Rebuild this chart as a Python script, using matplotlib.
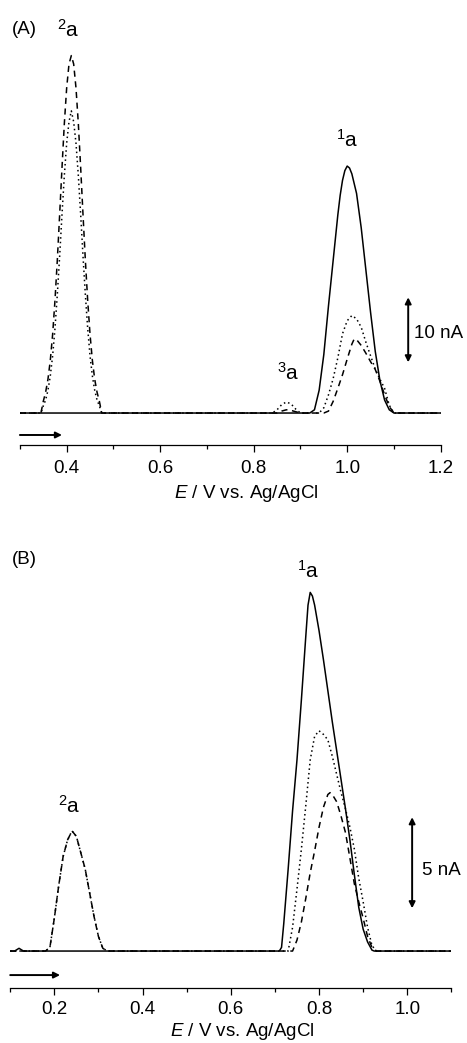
import numpy as np
import matplotlib
matplotlib.use("Agg")
import matplotlib.pyplot as plt
from matplotlib.ticker import MultipleLocator

plt.rcParams['font.family'] = ['Liberation Sans', 'DejaVu Sans']
plt.rcParams['mathtext.fontset'] = 'custom'
plt.rcParams['mathtext.rm'] = 'Liberation Sans'
plt.rcParams['mathtext.it'] = 'Liberation Sans:italic'

# ---- panel (A): current in nA vs E in V ----
a_solid_x = [0.30, 0.92, 0.93, 0.94, 0.95, 0.96, 0.97, 0.98, 0.985, 0.99, 0.995, 1.00, 1.005,
             1.01, 1.02, 1.03, 1.04, 1.05, 1.06, 1.07, 1.08, 1.09, 1.10, 1.20]
a_solid_y = [0, 0, 0.5, 3.5, 9, 16.5, 23.5, 30.5, 33.5, 35.8, 37.3, 38, 37.7,
             36.8, 33.8, 28.5, 22, 15.5, 9.5, 5, 2, 0.5, 0, 0]

a_dot_x = [0.30, 0.345, 0.35, 0.355, 0.36, 0.365, 0.37, 0.375, 0.38, 0.385, 0.39, 0.395,
           0.40, 0.405, 0.41, 0.415, 0.42, 0.425, 0.43, 0.435, 0.44, 0.445, 0.45, 0.455,
           0.46, 0.465, 0.47, 0.475,
           0.84, 0.85, 0.86, 0.87, 0.88, 0.89, 0.90,
           0.94, 0.95, 0.96, 0.97, 0.98, 0.99, 1.00, 1.01, 1.02, 1.03, 1.04, 1.05, 1.06,
           1.07, 1.08, 1.09, 1.10, 1.20]
a_dot_y = [0, 0, 1.1, 2.0, 3.5, 5.7, 8.8, 13.0, 18.2, 24.1, 30.5, 36.5,
           41.5, 44.8, 46.5, 44.8, 41.5, 36.5, 30.5, 24.1, 18.2, 13.0, 8.8, 5.7,
           3.5, 2.0, 1.1, 0,
           0, 0.5, 1.3, 1.7, 1.4, 0.6, 0,
           0, 0.8, 2.8, 5.3, 8.5, 12.2, 14.2, 15, 14.5, 13.2, 10.9, 8.8, 6.8,
           5.2, 3.8, 1.2, 0, 0]

a_dash_x = [0.30, 0.345, 0.35, 0.355, 0.36, 0.365, 0.37, 0.375, 0.38, 0.385, 0.39, 0.395,
            0.40, 0.405, 0.41, 0.415, 0.42, 0.425, 0.43, 0.435, 0.44, 0.445, 0.45, 0.455,
            0.46, 0.465, 0.47, 0.475,
            0.85, 0.86, 0.87, 0.88, 0.89, 0.90,
            0.95, 0.96, 0.97, 0.98, 0.99, 1.00, 1.01, 1.015, 1.02, 1.03, 1.04, 1.05, 1.06,
            1.07, 1.08, 1.09, 1.10, 1.20]
a_dash_y = [0, 0, 1.8, 3.2, 5.2, 8.1, 12.1, 17.3, 23.5, 30.5, 37.7, 44.5,
            50.0, 53.7, 55, 53.7, 50.0, 44.5, 37.7, 30.5, 23.5, 17.3, 12.1, 8.1,
            5.2, 3.2, 1.8, 0,
            0, 0.3, 0.5, 0.4, 0.2, 0,
            0, 0.3, 1.8, 3.8, 5.9, 8.3, 10.6, 11.4, 11.3, 10.4, 9.2, 7.9, 6.7,
            4.9, 2.8, 1.0, 0, 0]

# ---- panel (B) ----
b_solid_x = [0.10, 0.11, 0.12, 0.13, 0.70, 0.71, 0.715, 0.72, 0.73, 0.74, 0.75, 0.76, 0.77,
             0.775, 0.78, 0.785, 0.79, 0.80, 0.81, 0.82, 0.83, 0.84, 0.85, 0.86, 0.87,
             0.88, 0.89, 0.90, 0.91, 0.92, 0.925, 1.10]
b_solid_y = [0, 0, 0.15, 0, 0, 0, 0.2, 1.5, 4.5, 7.7, 10.5, 13.8, 17.3,
             19.0, 19.7, 19.5, 19.0, 17.6, 16.0, 14.3, 12.6, 11.0, 9.4, 7.8, 6.1,
             4.2, 2.4, 1.2, 0.5, 0.05, 0, 0]

b_dot_x = [0.10, 0.18, 0.19, 0.20, 0.21, 0.22, 0.23, 0.24, 0.25, 0.26, 0.27, 0.28, 0.29,
           0.30, 0.31, 0.32,
           0.73, 0.74, 0.75, 0.76, 0.77, 0.78, 0.79, 0.80, 0.81, 0.82, 0.83, 0.84, 0.85,
           0.86, 0.87, 0.88, 0.89, 0.90, 0.91, 0.92, 0.93, 1.10]
b_dot_y = [0, 0, 0.2, 1.8, 3.6, 5.2, 6.1, 6.6, 6.3, 5.4, 4.5, 3.2, 1.9,
           0.8, 0.15, 0,
           0, 1.3, 3.4, 5.6, 8.0, 10.5, 11.8, 12.1, 11.9, 11.6, 10.7, 9.7, 8.7,
           7.8, 6.8, 5.6, 4.0, 2.7, 1.3, 0.3, 0, 0]

b_dash_x = [0.10, 0.18, 0.19, 0.20, 0.21, 0.22, 0.23, 0.24, 0.25, 0.26, 0.27, 0.28, 0.29,
            0.30, 0.31, 0.32,
            0.74, 0.75, 0.76, 0.77, 0.78, 0.79, 0.80, 0.81, 0.82, 0.825, 0.83, 0.84, 0.85,
            0.86, 0.87, 0.88, 0.89, 0.90, 0.91, 0.92, 0.93, 1.10]
b_dash_y = [0, 0, 0.2, 1.8, 3.6, 5.2, 6.1, 6.6, 6.3, 5.4, 4.5, 3.2, 1.9,
            0.8, 0.15, 0,
            0, 0.6, 1.6, 2.9, 4.3, 5.5, 6.8, 7.9, 8.6, 8.7, 8.6, 8.2, 7.4,
            6.5, 5.1, 3.7, 2.7, 1.8, 0.8, 0.2, 0, 0]

FS = 13.5
FS_PEAK = 15
W, H = 467, 1043
fig = plt.figure(figsize=(W / 100, H / 100), dpi=100)


def px_axes(x0, x1, ytop, ybot):
    return fig.add_axes([x0 / W, 1 - ybot / H, (x1 - x0) / W, (ybot - ytop) / H])


def style_axis(ax, pad):
    for s in ['left', 'right', 'top']:
        ax.spines[s].set_visible(False)
    ax.spines['bottom'].set_linewidth(0.9)
    ax.set_yticks([])
    ax.xaxis.set_major_locator(MultipleLocator(0.2))
    ax.xaxis.set_minor_locator(MultipleLocator(0.1))
    ax.tick_params(axis='x', which='major', direction='out', length=5, width=0.9,
                   labelsize=FS, pad=pad)
    ax.tick_params(axis='x', which='minor', direction='out', length=3, width=0.9)
    ax.xaxis.set_major_formatter(matplotlib.ticker.FormatStrFormatter('%.1f'))


def scale_bar(ax, x, y0, y1, label, xl, yl):
    ax.annotate('', xy=(x, y1), xytext=(x, y0),
                arrowprops=dict(arrowstyle='<|-|>', color='k', lw=1.4,
                                mutation_scale=9, shrinkA=0, shrinkB=0))
    ax.text(xl, yl, label, fontsize=FS, va='center', ha='left')


def sweep_arrow(ax, x0, x1, y):
    ax.annotate('', xy=(x1, y), xytext=(x0, y), annotation_clip=False,
                arrowprops=dict(arrowstyle='-|>', color='k', lw=1.4,
                                mutation_scale=9, shrinkA=0, shrinkB=0))


dot = (0, (1, 2))
dash = (0, (4, 3))

# panel A
ax = px_axes(19.9, 440.7, 40, 445)
ax.plot(a_dash_x, a_dash_y, color='k', lw=1.1, ls=dash)
ax.plot(a_dot_x, a_dot_y, color='k', lw=1.1, ls=dot)
ax.plot(a_solid_x, a_solid_y, color='k', lw=1.1)
ax.set_xlim(0.3, 1.2)
ax.set_ylim(-4.92, 57.4)
style_axis(ax, 5.5)
ax.text(0.403, 58.9, r'$\mathregular{^2a}$', fontsize=FS_PEAK, ha='center', va='center')
ax.text(1.0, 42.0, r'$\mathregular{^1a}$', fontsize=FS_PEAK, ha='center', va='center')
ax.text(0.874, 6.15, r'$\mathregular{^3a}$', fontsize=FS_PEAK, ha='center', va='center')
scale_bar(ax, 1.1305, 7.8, 17.8, '10 nA', 1.143, 12.3)
sweep_arrow(ax, 0.30, 0.39, -3.38)
fig.text(12 / W, 1 - 30 / H, '(A)', fontsize=FS, va='center', ha='left')
fig.text(246 / W, 1 - 493 / H, r'$\mathit{E}$ / V vs. Ag/AgCl', fontsize=FS,
         ha='center', va='center')

# panel B
ax = px_axes(10.2, 451.4, 560, 988)
ax.plot(b_dash_x, b_dash_y, color='k', lw=1.1, ls=dash)
ax.plot(b_dot_x, b_dot_y, color='k', lw=1.1, ls=dot)
ax.plot(b_solid_x, b_solid_y, color='k', lw=1.1)
ax.set_xlim(0.1, 1.1)
ax.set_ylim(-2.03, 21.48)
style_axis(ax, 4)
ax.text(0.775, 20.9, r'$\mathregular{^1a}$', fontsize=FS_PEAK, ha='center', va='center')
ax.text(0.233, 7.97, r'$\mathregular{^2a}$', fontsize=FS_PEAK, ha='center', va='center')
scale_bar(ax, 1.011, 2.35, 7.35, '5 nA', 1.033, 4.45)
sweep_arrow(ax, 0.10, 0.213, -1.32)
fig.text(12 / W, 1 - 559 / H, '(B)', fontsize=FS, va='center', ha='left')
fig.text(242 / W, 1 - 1032 / H, r'$\mathit{E}$ / V vs. Ag/AgCl', fontsize=FS,
         ha='center', va='center')

fig.savefig('out.png', dpi=100)
